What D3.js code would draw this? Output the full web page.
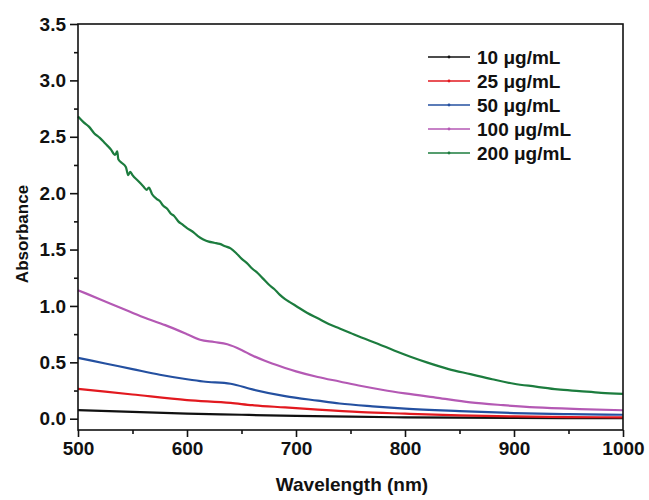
<!DOCTYPE html>
<html>
<head>
<meta charset="utf-8">
<script src="https://cdn.jsdelivr.net/npm/d3@7"></script>
<style>
  body { margin: 0; background: #fff; }
  svg text { font-family: "Liberation Sans", Arial, sans-serif; font-weight: bold; fill: #111; }
</style>
</head>
<body>
<svg width="649" height="500"></svg>
<script>
// wavelength (nm) / absorbance pairs
const conc10 = [[500,0.077],[550,0.06],[600,0.045],[650,0.035],[700,0.025],[750,0.018],[800,0.012],[900,0.007],[1000,0.005]];
const conc25 = [[500,0.265],[550,0.215],[600,0.165],[640,0.14],[660,0.12],[690,0.10],[720,0.08],[760,0.058],[800,0.045],[850,0.03],[900,0.02],[950,0.015],[1000,0.012]];
const conc50 = [[500,0.54],[525,0.49],[550,0.44],[575,0.39],[600,0.35],[615,0.33],[640,0.31],[660,0.26],[690,0.20],[720,0.16],[740,0.135],[770,0.11],[800,0.09],[850,0.068],[900,0.05],[950,0.04],[1000,0.035]];
const conc100 = [[500,1.14],[520,1.06],[540,0.98],[560,0.90],[580,0.83],[600,0.75],[612,0.70],[625,0.68],[637,0.66],[650,0.61],[660,0.56],[675,0.50],[690,0.45],[700,0.42],[720,0.37],[740,0.33],[760,0.29],[780,0.255],[800,0.225],[830,0.185],[860,0.145],[890,0.12],[920,0.10],[960,0.085],[1000,0.075]];
const conc200 = [[500,2.68],[505,2.63],[510,2.59],[515,2.53],[520,2.49],[525,2.44],[530,2.39],[534,2.34],[536,2.37],[537,2.30],[540,2.27],[544,2.23],[546,2.16],[548,2.19],[550,2.16],[555,2.11],[560,2.06],[563,2.03],[565,2.05],[568,1.99],[572,1.95],[575,1.93],[578,1.89],[582,1.86],[585,1.82],[588,1.80],[592,1.75],[596,1.72],[600,1.69],[605,1.66],[610,1.62],[615,1.59],[620,1.57],[625,1.56],[630,1.55],[635,1.53],[640,1.51],[645,1.47],[650,1.42],[655,1.38],[660,1.33],[665,1.29],[670,1.24],[675,1.19],[680,1.15],[685,1.10],[690,1.06],[695,1.03],[700,1.00],[710,0.94],[720,0.89],[730,0.84],[740,0.80],[750,0.76],[760,0.72],[775,0.665],[790,0.605],[805,0.55],[820,0.50],[840,0.44],[860,0.395],[880,0.35],[900,0.31],[920,0.285],[940,0.26],[960,0.245],[980,0.23],[1000,0.22]];

const seriesNames = ['10 μg/mL','25 μg/mL','50 μg/mL','100 μg/mL','200 μg/mL'];
const seriesData = [conc10, conc25, conc50, conc100, conc200];
const seriesColors = ['#111111','#e2191f','#2450a0','#b459b4','#1c7c3e'];

const xTicks = [500,600,700,800,900,1000];
const xMinor = [550,650,750,850,950];
const yTicks = [0,0.5,1.0,1.5,2.0,2.5,3.0,3.5];
const yMinor = [0.25,0.75,1.25,1.75,2.25,2.75,3.25];

const svg = d3.select('svg');
const plotL = 78, plotR = 623, plotT = 24, plotB = 430;

const x = d3.scaleLinear().domain([500,1000]).range([plotL,plotR]);
const y = d3.scaleLinear().domain([-0.1,3.5]).range([plotB,plotT]);

// curves
const line = d3.line()
  .x(d => x(d[0]))
  .y(d => y(d[1]))
  .curve(d3.curveMonotoneX);

svg.selectAll('path.curve')
  .data(seriesData)
  .enter()
  .append('path')
    .attr('class','curve')
    .attr('d', line)
    .attr('fill','none')
    .attr('stroke',(d,i) => seriesColors[i])
    .attr('stroke-width',2.2);

// frame
svg.append('rect')
  .attr('x',plotL).attr('y',plotT)
  .attr('width',plotR-plotL).attr('height',plotB-plotT)
  .attr('fill','none').attr('stroke','#111').attr('stroke-width',1.6);

// y axis
svg.append('g')
  .attr('transform',`translate(${plotL},0)`)
  .call(d3.axisLeft(y).tickValues(yTicks).tickSize(8).tickPadding(4).tickFormat(d3.format('.1f')));
svg.append('g')
  .attr('transform',`translate(${plotL},0)`)
  .call(d3.axisLeft(y).tickValues(yMinor).tickSize(4).tickFormat(''));

// x axis
svg.append('g')
  .attr('transform',`translate(0,${plotB})`)
  .call(d3.axisBottom(x).tickValues(xTicks).tickSize(7).tickPadding(5).tickFormat(d3.format('d')));
svg.append('g')
  .attr('transform',`translate(0,${plotB})`)
  .call(d3.axisBottom(x).tickValues(xMinor).tickSize(4).tickFormat(''));

svg.selectAll('.domain').remove();
svg.selectAll('.tick line').attr('stroke','#111').attr('stroke-width',1.6);
svg.selectAll('.tick text')
  .style('font-family','"Liberation Sans", Arial, sans-serif')
  .style('font-weight','bold')
  .style('font-size','19px')
  .attr('fill','#111');

// axis titles
svg.append('text')
  .attr('x',352).attr('y',491)
  .attr('text-anchor','middle')
  .style('font-size','19px')
  .text('Wavelength (nm)');

svg.append('text')
  .attr('transform','translate(28,234) rotate(-90)')
  .attr('text-anchor','middle')
  .style('font-size','17px')
  .text('Absorbance');

// legend
const rows = svg.append('g').selectAll('g')
  .data(seriesNames)
  .enter()
  .append('g')
    .attr('transform',(d,i) => `translate(428,${57 + i*24})`);

rows.append('line')
  .attr('x1',0).attr('x2',42)
  .attr('stroke',(d,i) => seriesColors[i])
  .attr('stroke-width',1.6);
rows.append('circle')
  .attr('cx',21).attr('r',1.4)
  .attr('fill',(d,i) => seriesColors[i]);
rows.append('text')
  .attr('x',49).attr('y',7)
  .style('font-size','19px')
  .text(d => d);
</script>
</body>
</html>
